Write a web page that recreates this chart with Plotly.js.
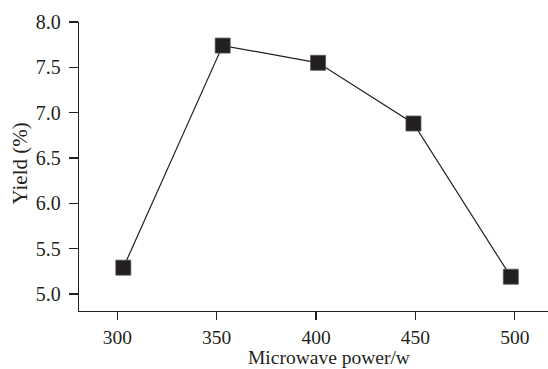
<!DOCTYPE html>
<html>
<head>
<meta charset="utf-8">
<script src="https://cdn.plot.ly/plotly-3.0.1.min.js"></script>
<style>html,body{margin:0;padding:0;background:#fff;}#chart{width:548px;height:369px;}</style>
</head>
<body>
<div id="chart"></div>
<script>
const powerW = [303, 353, 401, 449, 498];
const yieldPct = [5.29, 7.74, 7.55, 6.88, 5.19];
const xTickVals = [300, 350, 400, 450, 500];
const yTickVals = [5.0, 5.5, 6.0, 6.5, 7.0, 7.5, 8.0];
const yTickText = ["5.0", "5.5", "6.0", "6.5", "7.0", "7.5", "8.0"];
const xTitle = "Microwave power/w";
const yTitle = "Yield (%)";

const ink = "#231f20";
const fontFam = "'Liberation Serif', 'Times New Roman', serif";

const trace = {
  x: powerW, y: yieldPct, type: "scatter", mode: "lines+markers",
  line: {color: ink, width: 1.2},
  marker: {symbol: "square", size: 15, color: ink, line: {color: "#555", width: 0.8}},
  hoverinfo: "x+y"
};

const layout = {
  width: 548, height: 369,
  margin: {l: 79, r: 0, t: 22, b: 58},
  paper_bgcolor: "#fff", plot_bgcolor: "#fff",
  showlegend: false,
  font: {family: fontFam, color: ink, size: 20},
  xaxis: {
    range: [280.7, 516.7], tickvals: xTickVals, ticks: "outside", ticklen: 8, tickwidth: 1.2,
    tickcolor: ink, showline: true, linecolor: ink, linewidth: 1.2, showgrid: false, zeroline: false,
    tickfont: {family: fontFam, size: 19.5, color: ink}
  },
  yaxis: {
    range: [4.812, 8.0], tickvals: yTickVals, ticktext: yTickText, ticks: "outside", ticklen: 9, tickwidth: 1.2,
    tickcolor: ink, showline: true, linecolor: ink, linewidth: 1.2, showgrid: false, zeroline: false,
    tickfont: {family: fontFam, size: 20, color: ink}, ticklabelstandoff: 4
  },
  annotations: [
    {text: xTitle, xref: "paper", yref: "paper", x: 0.533, y: -0.2, xanchor: "center", yanchor: "bottom",
     borderpad: 0, showarrow: false, font: {family: fontFam, size: 19.5, color: ink}},
    {text: yTitle, xref: "paper", yref: "paper", x: -0.126, y: 0.51, xanchor: "center", yanchor: "middle",
     textangle: -90, showarrow: false, font: {family: fontFam, size: 21, color: ink}}
  ]
};

Plotly.newPlot("chart", [trace], layout, {displayModeBar: false, staticPlot: true});
</script>
</body>
</html>
